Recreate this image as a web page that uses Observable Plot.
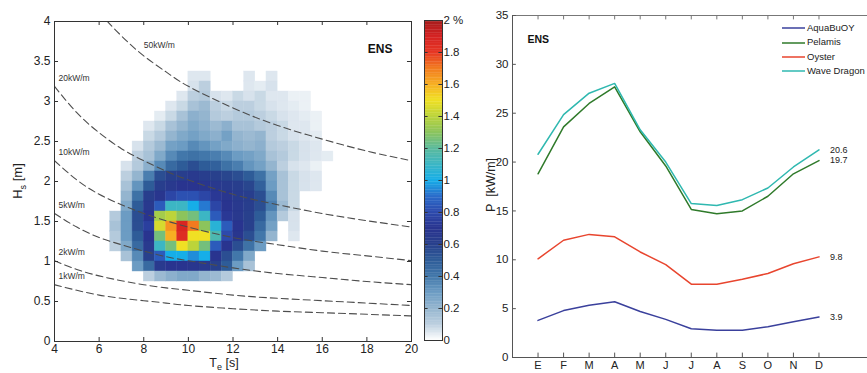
<!DOCTYPE html>
<html><head><meta charset="utf-8">
<script src="https://cdn.jsdelivr.net/npm/d3@7"></script>
<script src="https://cdn.jsdelivr.net/npm/@observablehq/plot@0.6"></script>
<style>
body{margin:0;background:#fff;font-family:"Liberation Sans",Arial,sans-serif;}
#root{position:relative;width:867px;height:373px;overflow:hidden;background:#fff;}
#root > *{position:absolute;}
.lbl{color:#222;white-space:nowrap;}
.leg div{height:14.4px;line-height:14.4px;font-size:9.5px;color:#222;display:flex;align-items:center;}
.leg svg{margin-right:2px;}
</style></head><body><div id="root"></div>
<script>
// ---------- Left panel: occurrence (%) of sea states ----------
const teBins = [6.5,7,7.5,8,8.5,9,9.5,10,10.5,11,11.5,12,12.5,13,13.5,14,14.5,15,15.5,16]; // lower edges, 0.5 s bins
const hsBins = [3.25,3.125,3,2.875,2.75,2.625,2.5,2.375,2.25,2.125,2,1.875,1.75,1.625,1.5,1.375,1.25,1.125,1,0.875,0.75]; // lower edges, 0.125 m bins
const teStep = 0.5, hsStep = 0.125;
const occurrence = [
 [0,0,0,0,0,0,0,.05,.05,0,0,0,.05,0,.05,0,0,0,0,0],
 [0,0,0,0,0,0,0,.06,.1,0,0,0,.05,.04,.06,0,0,0,0,0],
 [0,0,0,0,0,0,.05,.1,.12,.06,.05,.08,.06,.08,.05,.05,.03,.03,0,0],
 [0,0,0,0,0,.05,.08,.15,.18,.1,.08,.1,.1,.08,.06,.05,.04,.03,0,0],
 [0,0,0,0,.04,.08,.15,.22,.2,.12,.1,.12,.12,.1,.08,.06,.05,.04,.03,0],
 [0,0,0,.05,.08,.15,.2,.25,.22,.18,.22,.15,.15,.12,.1,.08,.05,.05,.03,0],
 [0,0,0,.08,.12,.2,.25,.28,.25,.22,.28,.2,.18,.2,.1,.08,.06,.05,.04,0],
 [0,0,.06,.12,.18,.28,.3,.35,.32,.28,.25,.22,.2,.22,.12,.1,.08,.06,.05,0],
 [0,0,.1,.15,.25,.35,.4,.42,.4,.38,.35,.3,.28,.25,.15,.12,.08,.06,.05,.04],
 [0,.06,.12,.22,.35,.45,.5,.55,.5,.48,.42,.38,.32,.28,.2,.1,.06,.05,.03,0],
 [0,.1,.2,.38,.55,.6,.62,.65,.62,.6,.58,.55,.5,.42,.28,.15,.08,.06,.05,0],
 [0,.15,.32,.5,.62,.66,.7,.7,.68,.66,.64,.62,.58,.48,.3,.15,.08,.06,.05,0],
 [0,.2,.42,.62,.68,.78,.82,.82,.78,.72,.68,.64,.62,.55,.35,.15,.08,0,0,0],
 [0,.25,.5,.65,.85,1.1,1.1,1.0,.92,.78,.7,.66,.62,.55,.38,.18,.08,0,0,0],
 [.12,.3,.55,.7,1.35,1.4,1.3,1.25,1.1,.85,.72,.66,.6,.5,.32,.12,.06,0,0,0],
 [.15,.3,.55,.75,1.45,1.65,1.88,1.7,1.3,1.05,.85,.7,.6,.45,.28,0,.06,0,0,0],
 [.12,.3,.5,.7,1.25,1.6,1.85,1.5,1.5,1.15,.8,.68,.55,.4,.2,0,.05,0,0,0],
 [.1,.25,.45,.65,1.1,1.25,1.5,1.4,1.25,.85,.7,.55,.42,.3,0,0,0,0,0,0],
 [0,.15,.35,.6,.85,1.0,1.0,.95,1.0,.7,.55,.4,.25,0,0,0,0,0,0,0],
 [0,0,.3,.45,.65,.7,.7,.68,.65,.6,.5,.3,.15,0,0,0,0,0,0,0],
 [0,0,0,.1,.18,.22,.25,.25,.2,.18,.12,0,0,0,0,0,0,0,0,0]
];
// iso-power curves (Hs read at Te points)
const contourTe = [4,5,6,7,8,9,10,12,14,16,18,20];
const contourLevels = ["1kW/m","2kW/m","5kW/m","10kW/m","20kW/m","50kW/m"];
const hs1kW  = [0.71,0.64,0.58,0.54,0.51,0.48,0.45,0.41,0.38,0.36,0.34,0.32];
const hs2kW  = [1.01,0.90,0.82,0.76,0.71,0.67,0.64,0.58,0.54,0.51,0.48,0.45];
const hs5kW  = [1.60,1.43,1.30,1.21,1.13,1.06,1.01,0.92,0.85,0.80,0.75,0.71];
const hs10kW = [2.26,2.02,1.84,1.71,1.60,1.51,1.43,1.30,1.21,1.13,1.07,1.01];
const hs20kW = [3.19,2.86,2.61,2.41,2.26,2.13,2.02,1.84,1.71,1.60,1.51,1.43];
const hs50kW = [5.05,4.52,4.12,3.82,3.57,3.37,3.19,2.92,2.70,2.53,2.38,2.26];
const teTicks = [4,6,8,10,12,14,16,18,20];
const hsTicks = [0,0.5,1,1.5,2,2.5,3,3.5,4];
const cbTicks = [0,0.2,0.4,0.6,0.8,1,1.2,1.4,1.6,1.8,2];
const cmapStops = [0,0.1,0.2,0.3,0.4,0.5,0.6,0.7,0.8,0.9,1.0,1.1,1.2,1.3,1.4,1.5,1.6,1.7,1.8,1.9,2.0];
const cmapColors = ["#ffffff","#bccfdf","#94b5cf","#6c9cc3","#4277aa","#2e5c98","#28408c","#29348f","#2d4aac","#2a6ccb","#16aee8","#3cb6c4","#5cba9c","#8cc45c","#bcd43a","#f0e024","#f7ae22","#f27a1f","#e63624","#d42222","#a41c1c"];

// ---------- Right panel: monthly mean power ----------
const months = ["E","F","M","A","M","J","J","A","S","O","N","D"];
const monthIdx = [1,2,3,4,5,6,7,8,9,10,11,12];
const seriesNames = ["AquaBuOY","Pelamis","Oyster","Wave Dragon"];
const aquabuoy   = [3.8,4.8,5.35,5.7,4.7,3.9,2.95,2.8,2.8,3.15,3.65,4.15];
const pelamis    = [18.8,23.6,26.0,27.7,23.1,19.6,15.15,14.7,15.0,16.5,18.8,20.15];
const oyster     = [10.1,12.0,12.6,12.35,10.8,9.5,7.5,7.5,8.0,8.6,9.6,10.3];
const waveDragon = [20.8,24.85,27.05,28.05,23.3,20.0,15.75,15.55,16.15,17.35,19.5,21.25];
const annualLabels = ["3.9","19.7","9.8","20.6"];
const pTicks = [0,5,10,15,20,25,30,35];
const seriesColors = ["#3a409c","#2f7a2a","#e8452e","#2fb8b0"];

const FONT = "Liberation Sans, Arial, Helvetica, sans-serif";
const colorOpts = {type:"linear", domain: cmapStops, range: cmapColors, interpolate:"rgb", clamp:true};

const cells = [];
occurrence.forEach((row, r) => row.forEach((v, c) => {
  if (v > 0) cells.push({x1: teBins[c], x2: teBins[c] + teStep, y1: hsBins[r], y2: hsBins[r] + hsStep, v});
}));
const contourArrays = [hs1kW, hs2kW, hs5kW, hs10kW, hs20kW, hs50kW];
const contourRows = [];
contourArrays.forEach((arr, i) => arr.forEach((h, j) => contourRows.push({te: contourTe[j], hs: h, level: contourLevels[i]})));
const startLabels = contourArrays.slice(0,5).map((arr, i) => ({te: contourTe[0], hs: arr[0], text: contourLevels[i]}));
const fiftyLabel = [{te: contourTe[4], hs: hs50kW[4], text: contourLevels[5]}];

const left = Plot.plot({
  width: 420, height: 373,
  marginLeft: 54, marginRight: 9, marginTop: 21, marginBottom: 32,
  x: {domain: [4, 20]},
  y: {domain: [0, 4]},
  color: colorOpts,
  style: {fontFamily: FONT, fontSize: "12px", color: "#222", background: "transparent"},
  marks: [
    Plot.rect(cells, {x1: "x1", x2: "x2", y1: "y1", y2: "y2", fill: "v", stroke: "v", strokeWidth: 0.4}),
    Plot.line(contourRows, {x: "te", y: "hs", z: "level", curve: "natural", stroke: "#4d4d4d", strokeWidth: 1.1, strokeDasharray: "7,4", clip: true}),
    Plot.text(startLabels, {x: "te", y: "hs", text: "text", textAnchor: "start", dx: 4, dy: -8, fontSize: 8.5, fill: "#333"}),
    Plot.text(fiftyLabel, {x: "te", y: "hs", text: "text", textAnchor: "start", dx: 0, dy: -11, fontSize: 8.5, fill: "#333"}),
    Plot.text(["ENS"], {frameAnchor: "top-right", dx: -19, dy: 23, fontWeight: "bold", fontSize: 12, fill: "#111"}),
    Plot.frame({stroke: "#333", strokeWidth: 1}),
    Plot.ruleX(teTicks, {x: d => d, y1: 0, y2: 0.05, stroke: "#333"}),
    Plot.ruleX(teTicks, {x: d => d, y1: 4, y2: 3.95, stroke: "#333"}),
    Plot.ruleY(hsTicks, {y: d => d, x1: 4, x2: 4.18, stroke: "#333"}),
    Plot.ruleY(hsTicks, {y: d => d, x1: 20, x2: 19.82, stroke: "#333"}),
    Plot.axisX({ticks: teTicks, tickSize: 0, tickPadding: 3, label: null, tickFormat: d => String(d)}),
    Plot.axisY({ticks: hsTicks, tickSize: 0, tickPadding: 4, label: null, tickFormat: d => String(d)})
  ]
});

const cbSteps = d3.range(0, 2, 0.01);
const colorbar = Plot.plot({
  width: 55, height: 373,
  marginLeft: 9, marginRight: 28, marginTop: 20, marginBottom: 33,
  x: {domain: [0, 1], axis: null},
  y: {domain: [0, 2]},
  color: colorOpts,
  style: {fontFamily: FONT, fontSize: "11.5px", color: "#222", background: "transparent"},
  marks: [
    Plot.rect(cbSteps, {x1: 0, x2: 1, y1: d => d, y2: d => d + 0.012, fill: d => d + 0.005, clip: true}),
    Plot.frame({stroke: "#333"}),
    Plot.ruleY(cbTicks, {y: d => d, x1: 0, x2: 0.2, stroke: "#333"}),
    Plot.ruleY(cbTicks, {y: d => d, x1: 0.8, x2: 1, stroke: "#333"}),
    Plot.axisY({anchor: "right", ticks: cbTicks, tickSize: 0, tickPadding: 1, label: null, tickFormat: d => d === 2 ? "2 %" : String(d)})
  ]
});

const seriesValues = [aquabuoy, pelamis, oyster, waveDragon];
const lineMarks = seriesValues.map((vals, i) =>
  Plot.line(vals, {x: (d, j) => monthIdx[j], y: d => d, stroke: seriesColors[i], strokeWidth: 1.5}));
const endMarks = seriesValues.map((vals, i) =>
  Plot.text([vals[vals.length - 1]], {x: monthIdx[monthIdx.length - 1], y: d => d, text: () => annualLabels[i], textAnchor: "start", dx: 11, fontSize: 9, fill: "#222"}));

const right = Plot.plot({
  width: 407, height: 373,
  marginLeft: 52, marginRight: 0, marginTop: 15, marginBottom: 16,
  x: {domain: [0, 13.9]},
  y: {domain: [0, 35]},
  style: {fontFamily: FONT, fontSize: "11.5px", color: "#222", background: "transparent"},
  marks: [
    Plot.ruleX([0], {stroke: "#555"}),
    Plot.ruleY([0], {stroke: "#555"}),
    Plot.ruleY([35], {stroke: "#777"}),
    Plot.ruleX(monthIdx, {x: d => d, y1: 0, y2: 0.45, stroke: "#555"}),
    Plot.ruleX(monthIdx, {x: d => d, y1: 35, y2: 34.55, stroke: "#777"}),
    Plot.ruleY(pTicks, {y: d => d, x1: 0, x2: 0.15, stroke: "#555"}),
    ...lineMarks,
    ...endMarks,
    Plot.text(["ENS"], {frameAnchor: "top-left", dx: 15, dy: 20, textAnchor: "start", fontWeight: "bold", fontSize: 10.5, fill: "#111"}),
    Plot.axisX({ticks: monthIdx, tickFormat: d => months[d - 1], tickSize: 0, tickPadding: 4, fontSize: 11, label: null}),
    Plot.axisY({ticks: pTicks, tickSize: 0, tickPadding: 4, label: null})
  ]
});

const root = document.getElementById("root");
left.style.left = "0px"; left.style.top = "0px";
colorbar.style.left = "415px"; colorbar.style.top = "0px";
right.style.left = "460px"; right.style.top = "0px";
root.append(left, colorbar, right);

function addLabel(html, x, y, size, rotate) {
  const d = document.createElement("div");
  d.className = "lbl";
  d.innerHTML = html;
  d.style.left = x + "px"; d.style.top = y + "px";
  d.style.fontSize = size + "px";
  d.style.transform = "translate(-50%,-50%)" + (rotate ? " rotate(-90deg)" : "");
  root.append(d);
}
addLabel('H<sub style="font-size:9px">s</sub> [m]', 19, 181, 13, true);
addLabel('T<sub style="font-size:9px">e</sub> [s]', 224, 364, 12.5, false);
addLabel('P&nbsp;&nbsp;[kW/m]', 491, 185, 12.5, true);

const leg = document.createElement("div");
leg.className = "leg";
leg.style.left = "782px"; leg.style.top = "21px";
seriesNames.forEach((name, i) => {
  const row = document.createElement("div");
  row.innerHTML = `<svg width="23" height="6"><line x1="0" x2="23" y1="3" y2="3" stroke="${seriesColors[i]}" stroke-width="1.5"/></svg><span>${name}</span>`;
  leg.append(row);
});
root.append(leg);
</script>
</body></html>
